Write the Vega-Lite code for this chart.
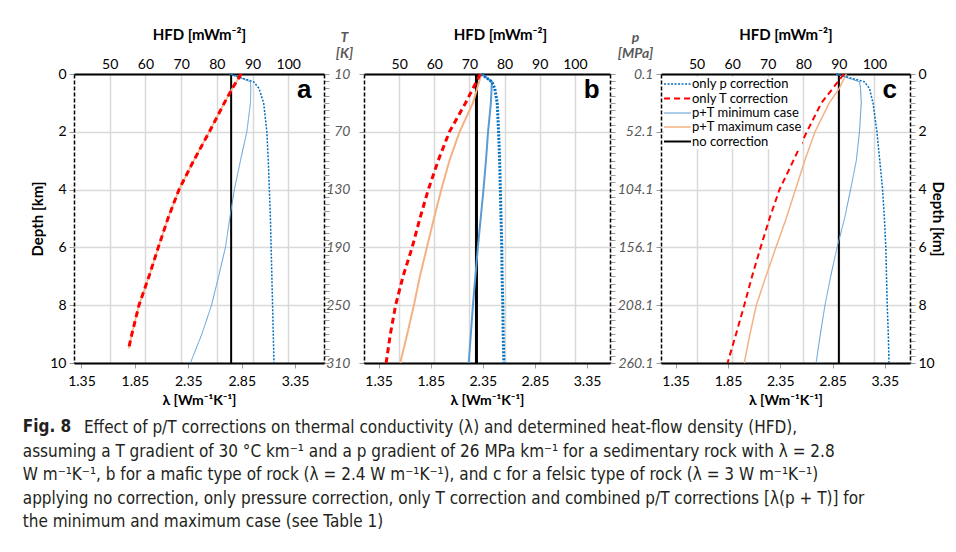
{
  "$schema": "https://vega.github.io/schema/vega-lite/v6.json",
  "padding": {"left": 22, "top": 27, "right": 10, "bottom": 0},
  "bounds": "flush",
  "spacing": 40,
  "datasets": {
    "curves": [
      {"panel": "a", "series": "no correction", "depth": 0, "hfd": 84},
      {"panel": "a", "series": "no correction", "depth": 10, "hfd": 84},
      {"panel": "a", "series": "p+T maximum case", "depth": 0, "hfd": 86.8},
      {"panel": "a", "series": "p+T maximum case", "depth": 0.5, "hfd": 84.3},
      {"panel": "a", "series": "p+T maximum case", "depth": 1, "hfd": 82.1},
      {"panel": "a", "series": "p+T maximum case", "depth": 2, "hfd": 77.9},
      {"panel": "a", "series": "p+T maximum case", "depth": 3, "hfd": 73.5},
      {"panel": "a", "series": "p+T maximum case", "depth": 4, "hfd": 69.4},
      {"panel": "a", "series": "p+T maximum case", "depth": 5, "hfd": 66.3},
      {"panel": "a", "series": "p+T maximum case", "depth": 6, "hfd": 63.6},
      {"panel": "a", "series": "p+T maximum case", "depth": 7, "hfd": 61.0},
      {"panel": "a", "series": "p+T maximum case", "depth": 8, "hfd": 58.2},
      {"panel": "a", "series": "p+T maximum case", "depth": 9, "hfd": 56.2},
      {"panel": "a", "series": "p+T maximum case", "depth": 9.5, "hfd": 55.3},
      {"panel": "a", "series": "p+T minimum case", "depth": 0, "hfd": 83.6},
      {"panel": "a", "series": "p+T minimum case", "depth": 0.27, "hfd": 89.4},
      {"panel": "a", "series": "p+T minimum case", "depth": 0.5, "hfd": 89.5},
      {"panel": "a", "series": "p+T minimum case", "depth": 1, "hfd": 89.4},
      {"panel": "a", "series": "p+T minimum case", "depth": 2, "hfd": 88.4},
      {"panel": "a", "series": "p+T minimum case", "depth": 3, "hfd": 86.6},
      {"panel": "a", "series": "p+T minimum case", "depth": 4, "hfd": 84.9},
      {"panel": "a", "series": "p+T minimum case", "depth": 5, "hfd": 83.6},
      {"panel": "a", "series": "p+T minimum case", "depth": 6, "hfd": 82.4},
      {"panel": "a", "series": "p+T minimum case", "depth": 7, "hfd": 80.5},
      {"panel": "a", "series": "p+T minimum case", "depth": 8, "hfd": 78.5},
      {"panel": "a", "series": "p+T minimum case", "depth": 9, "hfd": 75.8},
      {"panel": "a", "series": "p+T minimum case", "depth": 10, "hfd": 72.6},
      {"panel": "a", "series": "only p correction", "depth": 0, "hfd": 83.6},
      {"panel": "a", "series": "only p correction", "depth": 0.27, "hfd": 90.3},
      {"panel": "a", "series": "only p correction", "depth": 0.5, "hfd": 91.8},
      {"panel": "a", "series": "only p correction", "depth": 1, "hfd": 93.1},
      {"panel": "a", "series": "only p correction", "depth": 2, "hfd": 94.0},
      {"panel": "a", "series": "only p correction", "depth": 3, "hfd": 94.4},
      {"panel": "a", "series": "only p correction", "depth": 4, "hfd": 94.7},
      {"panel": "a", "series": "only p correction", "depth": 5, "hfd": 95.0},
      {"panel": "a", "series": "only p correction", "depth": 6, "hfd": 95.2},
      {"panel": "a", "series": "only p correction", "depth": 7, "hfd": 95.4},
      {"panel": "a", "series": "only p correction", "depth": 8, "hfd": 95.6},
      {"panel": "a", "series": "only p correction", "depth": 9, "hfd": 95.8},
      {"panel": "a", "series": "only p correction", "depth": 10, "hfd": 96.0},
      {"panel": "a", "series": "only T correction", "depth": 0, "hfd": 86.8},
      {"panel": "a", "series": "only T correction", "depth": 0.5, "hfd": 84.3},
      {"panel": "a", "series": "only T correction", "depth": 1, "hfd": 82.1},
      {"panel": "a", "series": "only T correction", "depth": 2, "hfd": 77.9},
      {"panel": "a", "series": "only T correction", "depth": 3, "hfd": 73.5},
      {"panel": "a", "series": "only T correction", "depth": 4, "hfd": 69.4},
      {"panel": "a", "series": "only T correction", "depth": 5, "hfd": 66.3},
      {"panel": "a", "series": "only T correction", "depth": 6, "hfd": 63.6},
      {"panel": "a", "series": "only T correction", "depth": 7, "hfd": 61.0},
      {"panel": "a", "series": "only T correction", "depth": 8, "hfd": 58.2},
      {"panel": "a", "series": "only T correction", "depth": 9, "hfd": 56.2},
      {"panel": "a", "series": "only T correction", "depth": 9.5, "hfd": 55.3},

      {"panel": "b", "series": "no correction", "depth": 0, "hfd": 72},
      {"panel": "b", "series": "no correction", "depth": 10, "hfd": 72},
      {"panel": "b", "series": "p+T maximum case", "depth": 0, "hfd": 73.4},
      {"panel": "b", "series": "p+T maximum case", "depth": 1, "hfd": 71.0},
      {"panel": "b", "series": "p+T maximum case", "depth": 2, "hfd": 67.2},
      {"panel": "b", "series": "p+T maximum case", "depth": 3, "hfd": 64.3},
      {"panel": "b", "series": "p+T maximum case", "depth": 4, "hfd": 62.0},
      {"panel": "b", "series": "p+T maximum case", "depth": 5, "hfd": 59.9},
      {"panel": "b", "series": "p+T maximum case", "depth": 6, "hfd": 57.9},
      {"panel": "b", "series": "p+T maximum case", "depth": 7, "hfd": 55.9},
      {"panel": "b", "series": "p+T maximum case", "depth": 8, "hfd": 54.2},
      {"panel": "b", "series": "p+T maximum case", "depth": 9, "hfd": 52.3},
      {"panel": "b", "series": "p+T maximum case", "depth": 10, "hfd": 50.3},
      {"panel": "b", "series": "p+T minimum case", "depth": 0, "hfd": 73.4},
      {"panel": "b", "series": "p+T minimum case", "depth": 0.27, "hfd": 76.4},
      {"panel": "b", "series": "p+T minimum case", "depth": 0.5, "hfd": 76.3},
      {"panel": "b", "series": "p+T minimum case", "depth": 1, "hfd": 76.1},
      {"panel": "b", "series": "p+T minimum case", "depth": 2, "hfd": 75.3},
      {"panel": "b", "series": "p+T minimum case", "depth": 3, "hfd": 74.7},
      {"panel": "b", "series": "p+T minimum case", "depth": 4, "hfd": 74.0},
      {"panel": "b", "series": "p+T minimum case", "depth": 5, "hfd": 73.2},
      {"panel": "b", "series": "p+T minimum case", "depth": 6, "hfd": 72.4},
      {"panel": "b", "series": "p+T minimum case", "depth": 7, "hfd": 71.7},
      {"panel": "b", "series": "p+T minimum case", "depth": 8, "hfd": 71.0},
      {"panel": "b", "series": "p+T minimum case", "depth": 9, "hfd": 70.4},
      {"panel": "b", "series": "p+T minimum case", "depth": 10, "hfd": 69.8},
      {"panel": "b", "series": "only p correction", "depth": 0, "hfd": 73.4},
      {"panel": "b", "series": "only p correction", "depth": 0.27, "hfd": 76.4},
      {"panel": "b", "series": "only p correction", "depth": 0.5, "hfd": 77.2},
      {"panel": "b", "series": "only p correction", "depth": 1, "hfd": 77.9},
      {"panel": "b", "series": "only p correction", "depth": 2, "hfd": 78.3},
      {"panel": "b", "series": "only p correction", "depth": 3, "hfd": 78.6},
      {"panel": "b", "series": "only p correction", "depth": 4, "hfd": 78.8},
      {"panel": "b", "series": "only p correction", "depth": 5, "hfd": 79.0},
      {"panel": "b", "series": "only p correction", "depth": 6, "hfd": 79.2},
      {"panel": "b", "series": "only p correction", "depth": 7, "hfd": 79.3},
      {"panel": "b", "series": "only p correction", "depth": 8, "hfd": 79.5},
      {"panel": "b", "series": "only p correction", "depth": 9, "hfd": 79.6},
      {"panel": "b", "series": "only p correction", "depth": 10, "hfd": 79.8},
      {"panel": "b", "series": "only T correction", "depth": 0, "hfd": 73.1},
      {"panel": "b", "series": "only T correction", "depth": 1, "hfd": 68.9},
      {"panel": "b", "series": "only T correction", "depth": 2, "hfd": 64.3},
      {"panel": "b", "series": "only T correction", "depth": 3, "hfd": 61.1},
      {"panel": "b", "series": "only T correction", "depth": 4, "hfd": 58.3},
      {"panel": "b", "series": "only T correction", "depth": 5, "hfd": 55.9},
      {"panel": "b", "series": "only T correction", "depth": 6, "hfd": 53.7},
      {"panel": "b", "series": "only T correction", "depth": 7, "hfd": 51.1},
      {"panel": "b", "series": "only T correction", "depth": 8, "hfd": 49.0},
      {"panel": "b", "series": "only T correction", "depth": 9, "hfd": 47.5},
      {"panel": "b", "series": "only T correction", "depth": 10, "hfd": 46.3},

      {"panel": "c", "series": "no correction", "depth": 0, "hfd": 90},
      {"panel": "c", "series": "no correction", "depth": 10, "hfd": 90},
      {"panel": "c", "series": "p+T maximum case", "depth": 0, "hfd": 92.1},
      {"panel": "c", "series": "p+T maximum case", "depth": 0.5, "hfd": 90.1},
      {"panel": "c", "series": "p+T maximum case", "depth": 1, "hfd": 87.3},
      {"panel": "c", "series": "p+T maximum case", "depth": 1.5, "hfd": 85.3},
      {"panel": "c", "series": "p+T maximum case", "depth": 2, "hfd": 83.3},
      {"panel": "c", "series": "p+T maximum case", "depth": 3, "hfd": 80.4},
      {"panel": "c", "series": "p+T maximum case", "depth": 4, "hfd": 77.8},
      {"panel": "c", "series": "p+T maximum case", "depth": 5, "hfd": 75.2},
      {"panel": "c", "series": "p+T maximum case", "depth": 6, "hfd": 72.3},
      {"panel": "c", "series": "p+T maximum case", "depth": 7, "hfd": 69.5},
      {"panel": "c", "series": "p+T maximum case", "depth": 8, "hfd": 66.8},
      {"panel": "c", "series": "p+T maximum case", "depth": 9, "hfd": 65.0},
      {"panel": "c", "series": "p+T maximum case", "depth": 10, "hfd": 63.4},
      {"panel": "c", "series": "p+T minimum case", "depth": 0, "hfd": 89.2},
      {"panel": "c", "series": "p+T minimum case", "depth": 0.27, "hfd": 95.8},
      {"panel": "c", "series": "p+T minimum case", "depth": 0.5, "hfd": 96.1},
      {"panel": "c", "series": "p+T minimum case", "depth": 1, "hfd": 96.3},
      {"panel": "c", "series": "p+T minimum case", "depth": 2, "hfd": 95.8},
      {"panel": "c", "series": "p+T minimum case", "depth": 3, "hfd": 94.9},
      {"panel": "c", "series": "p+T minimum case", "depth": 4, "hfd": 93.3},
      {"panel": "c", "series": "p+T minimum case", "depth": 5, "hfd": 91.6},
      {"panel": "c", "series": "p+T minimum case", "depth": 6, "hfd": 89.5},
      {"panel": "c", "series": "p+T minimum case", "depth": 7, "hfd": 87.7},
      {"panel": "c", "series": "p+T minimum case", "depth": 8, "hfd": 86.1},
      {"panel": "c", "series": "p+T minimum case", "depth": 9, "hfd": 84.8},
      {"panel": "c", "series": "p+T minimum case", "depth": 10, "hfd": 83.6},
      {"panel": "c", "series": "only p correction", "depth": 0, "hfd": 89.2},
      {"panel": "c", "series": "only p correction", "depth": 0.27, "hfd": 97.2},
      {"panel": "c", "series": "only p correction", "depth": 0.5, "hfd": 98.6},
      {"panel": "c", "series": "only p correction", "depth": 1, "hfd": 99.6},
      {"panel": "c", "series": "only p correction", "depth": 2, "hfd": 100.7},
      {"panel": "c", "series": "only p correction", "depth": 3, "hfd": 101.5},
      {"panel": "c", "series": "only p correction", "depth": 4, "hfd": 102.3},
      {"panel": "c", "series": "only p correction", "depth": 5, "hfd": 102.8},
      {"panel": "c", "series": "only p correction", "depth": 6, "hfd": 103.2},
      {"panel": "c", "series": "only p correction", "depth": 7, "hfd": 103.4},
      {"panel": "c", "series": "only p correction", "depth": 8, "hfd": 103.6},
      {"panel": "c", "series": "only p correction", "depth": 9, "hfd": 103.9},
      {"panel": "c", "series": "only p correction", "depth": 10, "hfd": 104.1},
      {"panel": "c", "series": "only T correction", "depth": 0, "hfd": 91.4},
      {"panel": "c", "series": "only T correction", "depth": 0.5, "hfd": 88.3},
      {"panel": "c", "series": "only T correction", "depth": 1, "hfd": 85.1},
      {"panel": "c", "series": "only T correction", "depth": 2, "hfd": 81.0},
      {"panel": "c", "series": "only T correction", "depth": 3, "hfd": 77.2},
      {"panel": "c", "series": "only T correction", "depth": 4, "hfd": 73.3},
      {"panel": "c", "series": "only T correction", "depth": 5, "hfd": 70.5},
      {"panel": "c", "series": "only T correction", "depth": 6, "hfd": 68.0},
      {"panel": "c", "series": "only T correction", "depth": 7, "hfd": 65.6},
      {"panel": "c", "series": "only T correction", "depth": 8, "hfd": 63.4},
      {"panel": "c", "series": "only T correction", "depth": 9, "hfd": 61.1},
      {"panel": "c", "series": "only T correction", "depth": 10, "hfd": 58.7}
    ]
  },
  "title": {
    "text": "Fig. 8",
    "subtitle": [
      "\u200b\u2003\u2003\u2003\u2002\u2002Effect of p/T corrections on thermal conductivity (λ) and determined heat-flow density (HFD),",
      "assuming a T gradient of 30 °C km⁻¹ and a p gradient of 26 MPa km⁻¹ for a sedimentary rock with λ = 2.8",
      "W m⁻¹K⁻¹, b for a mafic type of rock (λ = 2.4 W m⁻¹K⁻¹), and c for a felsic type of rock (λ = 3 W m⁻¹K⁻¹)",
      "applying no correction, only pressure correction, only T correction and combined p/T corrections [λ(p + T)] for",
      "the minimum and maximum case (see Table 1)"
    ],
    "orient": "bottom",
    "anchor": "start",
    "frame": "bounds",
    "dx": -8,
    "offset": 12,
    "font": "Liberation Sans Narrow, DejaVu Sans Condensed, sans-serif",
    "fontSize": 17,
    "fontWeight": "bold",
    "color": "#231f20",
    "subtitleFont": "Liberation Sans Narrow, DejaVu Sans Condensed, sans-serif",
    "subtitleFontSize": 17,
    "subtitleColor": "#231f20",
    "subtitleLineHeight": 23.5,
    "subtitlePadding": -16
  },
  "resolve": {"scale": {"color": "independent", "strokeDash": "independent", "strokeWidth": "independent"}},
  "hconcat": [
    {
      "width": 250,
      "height": 289,
      "resolve": {"scale": {"x": "independent"}, "axis": {"y": "independent"}},
      "layer": [
        {
          "layer": [
            {
              "data": {"name": "curves"},
              "transform": [{"filter": "datum.panel === 'a'"}],
              "mark": {"type": "line"},
              "encoding": {
                "x": {"field": "hfd", "type": "quantitative", "scale": {"domain": [40, 110], "nice": false, "zero": false},
                  "axis": {"orient": "top", "values": [50, 60, 70, 80, 90, 100], "title": "HFD [mWm⁻²]", "titleFontWeight": "bold", "titleFontSize": 15, "titlePadding": 15, "ticks": false, "labelPadding": 3, "domainColor": "#000", "domainWidth": 2, "grid": true, "gridColor": "#d9d9d9", "gridWidth": 1.5}},
                "y": {"field": "depth", "type": "quantitative", "scale": {"domain": [0, 10], "reverse": true, "nice": false, "zero": false},
                  "axis": {"orient": "left", "values": [0,0.25,0.5,0.75,1,1.25,1.5,1.75,2,2.25,2.5,2.75,3,3.25,3.5,3.75,4,4.25,4.5,4.75,5,5.25,5.5,5.75,6,6.25,6.5,6.75,7,7.25,7.5,7.75,8,8.25,8.5,8.75,9,9.25,9.5,9.75,10],
                    "labelExpr": "datum.value % 2 === 0 ? format(datum.value, 'd') : ''", "labelOverlap": false, "labelPadding": 3,
                    "title": "Depth [km]", "titleFontWeight": "bold", "titleFontSize": 15, "titlePadding": 4,
                    "tickSize": 5, "tickColor": "#9a9a9a", "domainColor": "#000", "domainWidth": 1.5, "domainDash": [4, 2],
                    "grid": true, "gridColor": "#d9d9d9", "gridWidth": 1.5,
                    "gridOpacity": {"condition": {"test": "datum.value % 1 === 0", "value": 1}, "value": 0}}},
                "order": {"field": "depth"},
                "color": {"field": "series", "type": "nominal", "legend": null,
                  "scale": {"domain": ["only p correction", "only T correction", "p+T minimum case", "p+T maximum case", "no correction"], "range": ["#0070C0", "#FF0000", "#5B9BD5", "#F4B183", "#000000"]}},
                "strokeDash": {"field": "series", "type": "nominal", "legend": null,
                  "scale": {"domain": ["only p correction", "only T correction", "p+T minimum case", "p+T maximum case", "no correction"], "range": [[2, 1.5], [6, 4], [1, 0], [1, 0], [1, 0]]}},
                "strokeWidth": {"field": "series", "type": "nominal", "legend": null,
                  "scale": {"type": "ordinal", "domain": ["only p correction", "only T correction", "p+T minimum case", "p+T maximum case", "no correction"], "range": [1.5, 3, 1, 1.5, 2]}}
              }
            },
            {
              "data": {"values": [{}]},
              "mark": {"type": "text", "font": "Liberation Sans", "fontWeight": "bold", "fontSize": 26, "align": "center", "baseline": "middle"},
              "encoding": {
                "x": {"datum": 104.5, "type": "quantitative"},
                "y": {"datum": 0.55, "type": "quantitative"},
                "text": {"value": "a"}
              }
            }
          ]
        },
        {
          "data": {"values": []},
          "mark": {"type": "point"},
          "encoding": {
            "x": {"field": "lam", "type": "quantitative", "scale": {"domain": [1.28, 3.62], "nice": false, "zero": false},
              "axis": {"orient": "bottom", "values": [1.35, 1.85, 2.35, 2.85, 3.35], "format": ".2f", "title": "λ [Wm⁻¹K⁻¹]", "titleFontWeight": "bold", "titleFontSize": 14, "titlePadding": 5, "labelPadding": 6, "tickSize": 5, "tickColor": "#9a9a9a", "domainColor": "#000", "domainWidth": 2, "grid": false}},
            "y": {"field": "depth", "type": "quantitative", "scale": {"domain": [0, 10], "reverse": true, "nice": false, "zero": false},
              "axis": {"orient": "right", "values": [0,0.25,0.5,0.75,1,1.25,1.5,1.75,2,2.25,2.5,2.75,3,3.25,3.5,3.75,4,4.25,4.5,4.75,5,5.25,5.5,5.75,6,6.25,6.5,6.75,7,7.25,7.5,7.75,8,8.25,8.5,8.75,9,9.25,9.5,9.75,10],
                "labels": false, "title": null, "grid": false, "tickSize": 5, "tickColor": "#9a9a9a", "domainColor": "#000", "domainWidth": 1.5, "domainDash": [4, 2]}}
          }
        }
      ]
    },
    {
      "bounds": "flush",
      "spacing": 51,
      "resolve": {"scale": {"color": "independent", "strokeDash": "independent", "strokeWidth": "independent"}},
      "hconcat": [
        {
          "width": 246,
          "height": 289,
          "resolve": {"scale": {"x": "independent"}, "axis": {"y": "independent"}},
          "layer": [
            {
              "layer": [
                {
                  "data": {"name": "curves"},
                  "transform": [{"filter": "datum.panel === 'b'"}],
                  "mark": {"type": "line"},
                  "encoding": {
                    "x": {"field": "hfd", "type": "quantitative", "scale": {"domain": [40, 110], "nice": false, "zero": false},
                      "axis": {"orient": "top", "values": [50, 60, 70, 80, 90, 100], "title": "HFD [mWm⁻²]", "titleX": 136, "titleFontWeight": "bold", "titleFontSize": 15, "titlePadding": 15, "ticks": false, "labelPadding": 3, "domainColor": "#000", "domainWidth": 2, "grid": true, "gridColor": "#d9d9d9", "gridWidth": 1.5}},
                    "y": {"field": "depth", "type": "quantitative", "scale": {"domain": [0, 10], "reverse": true, "nice": false, "zero": false},
                      "axis": {"orient": "left", "values": [0,0.25,0.5,0.75,1,1.25,1.5,1.75,2,2.25,2.5,2.75,3,3.25,3.5,3.75,4,4.25,4.5,4.75,5,5.25,5.5,5.75,6,6.25,6.5,6.75,7,7.25,7.5,7.75,8,8.25,8.5,8.75,9,9.25,9.5,9.75,10],
                        "labelExpr": "datum.value % 2 === 0 ? format(10 + 30 * datum.value, 'd') : ''", "labelOverlap": false, "labelPadding": 9,
                        "labelFontStyle": "italic", "labelColor": "#595959",
                        "title": ["T", "[K]"], "titleAngle": 0, "titleAlign": "center", "titleBaseline": "bottom", "titleX": -20, "titleY": -30,
                        "titleFontStyle": "italic", "titleColor": "#595959", "titleFontWeight": "bold", "titleFontSize": 14, "titleLineHeight": 16,
                        "tickSize": 5, "tickColor": "#9a9a9a", "domainColor": "#000", "domainWidth": 1.5, "domainDash": [4, 2],
                        "grid": true, "gridColor": "#d9d9d9", "gridWidth": 1.5,
                        "gridOpacity": {"condition": {"test": "datum.value % 1 === 0", "value": 1}, "value": 0}}},
                    "order": {"field": "depth"},
                    "color": {"field": "series", "type": "nominal", "legend": null,
                      "scale": {"domain": ["only p correction", "only T correction", "p+T minimum case", "p+T maximum case", "no correction"], "range": ["#0070C0", "#FF0000", "#5B9BD5", "#F4B183", "#000000"]}},
                    "strokeDash": {"field": "series", "type": "nominal", "legend": null,
                      "scale": {"domain": ["only p correction", "only T correction", "p+T minimum case", "p+T maximum case", "no correction"], "range": [[2, 1.5], [6, 4], [1, 0], [1, 0], [1, 0]]}},
                    "strokeWidth": {"field": "series", "type": "nominal", "legend": null,
                      "scale": {"type": "ordinal", "domain": ["only p correction", "only T correction", "p+T minimum case", "p+T maximum case", "no correction"], "range": [3, 3, 2, 2, 3]}}
                  }
                },
                {
                  "data": {"values": [{}]},
                  "mark": {"type": "text", "font": "Liberation Sans", "fontWeight": "bold", "fontSize": 26, "align": "center", "baseline": "middle"},
                  "encoding": {
                    "x": {"datum": 104.8, "type": "quantitative"},
                    "y": {"datum": 0.55, "type": "quantitative"},
                    "text": {"value": "b"}
                  }
                }
              ]
            },
            {
              "data": {"values": []},
              "mark": {"type": "point"},
              "encoding": {
                "x": {"field": "lam", "type": "quantitative", "scale": {"domain": [1.21, 3.57], "nice": false, "zero": false},
                  "axis": {"orient": "bottom", "values": [1.35, 1.85, 2.35, 2.85, 3.35], "format": ".2f", "title": "λ [Wm⁻¹K⁻¹]", "titleFontWeight": "bold", "titleFontSize": 14, "titlePadding": 5, "labelPadding": 6, "tickSize": 5, "tickColor": "#9a9a9a", "domainColor": "#000", "domainWidth": 2, "grid": false}},
                "y": {"field": "depth", "type": "quantitative", "scale": {"domain": [0, 10], "reverse": true, "nice": false, "zero": false},
                  "axis": {"orient": "right", "values": [0,0.25,0.5,0.75,1,1.25,1.5,1.75,2,2.25,2.5,2.75,3,3.25,3.5,3.75,4,4.25,4.5,4.75,5,5.25,5.5,5.75,6,6.25,6.5,6.75,7,7.25,7.5,7.75,8,8.25,8.5,8.75,9,9.25,9.5,9.75,10],
                    "labels": false, "title": null, "grid": false, "tickSize": 5, "tickColor": "#9a9a9a", "domainColor": "#000", "domainWidth": 1.5, "domainDash": [4, 2]}}
              }
            }
          ]
        },
        {
          "width": 249,
          "height": 289,
          "resolve": {"scale": {"x": "independent"}, "axis": {"y": "independent"}},
          "layer": [
            {
              "layer": [
                {
                  "data": {"name": "curves"},
                  "transform": [{"filter": "datum.panel === 'c'"}],
                  "mark": {"type": "line"},
                  "encoding": {
                    "x": {"field": "hfd", "type": "quantitative", "scale": {"domain": [40, 110], "nice": false, "zero": false},
                      "axis": {"orient": "top", "values": [50, 60, 70, 80, 90, 100], "title": "HFD [mWm⁻²]", "titleFontWeight": "bold", "titleFontSize": 15, "titlePadding": 15, "ticks": false, "labelPadding": 3, "domainColor": "#000", "domainWidth": 2, "grid": true, "gridColor": "#d9d9d9", "gridWidth": 1.5}},
                    "y": {"field": "depth", "type": "quantitative", "scale": {"domain": [0, 10], "reverse": true, "nice": false, "zero": false},
                      "axis": {"orient": "left", "values": [0,0.25,0.5,0.75,1,1.25,1.5,1.75,2,2.25,2.5,2.75,3,3.25,3.5,3.75,4,4.25,4.5,4.75,5,5.25,5.5,5.75,6,6.25,6.5,6.75,7,7.25,7.5,7.75,8,8.25,8.5,8.75,9,9.25,9.5,9.75,10],
                        "labelExpr": "datum.value % 2 === 0 ? format(0.1 + 26 * datum.value, '.1f') : ''", "labelOverlap": false, "labelPadding": 3,
                        "labelFontStyle": "italic", "labelColor": "#595959",
                        "title": ["p", "[MPa]"], "titleAngle": 0, "titleAlign": "center", "titleBaseline": "bottom", "titleX": -26, "titleY": -30,
                        "titleFontStyle": "italic", "titleColor": "#595959", "titleFontWeight": "bold", "titleFontSize": 14, "titleLineHeight": 16,
                        "tickSize": 5, "tickColor": "#9a9a9a", "domainColor": "#000", "domainWidth": 1.5, "domainDash": [4, 2],
                        "grid": true, "gridColor": "#d9d9d9", "gridWidth": 1.5,
                        "gridOpacity": {"condition": {"test": "datum.value % 1 === 0", "value": 1}, "value": 0}}},
                    "order": {"field": "depth"},
                    "color": {"field": "series", "type": "nominal",
                      "scale": {"domain": ["only p correction", "only T correction", "p+T minimum case", "p+T maximum case", "no correction"], "range": ["#0070C0", "#FF0000", "#5B9BD5", "#F4B183", "#000000"]},
                      "legend": {"orient": "top-left", "title": null, "offset": 3, "padding": 0, "symbolType": "M-2.2,0H2.2", "symbolSize": 150, "symbolOffset": 6, "symbolStrokeWidth": 2.5, "symbolFillColor": "transparent", "labelFont": "Lato", "labelFontSize": 13, "labelColor": "#000", "labelOffset": 7, "rowPadding": 0, "fillColor": "#ffffff"}},
                    "strokeDash": {"field": "series", "type": "nominal",
                      "scale": {"domain": ["only p correction", "only T correction", "p+T minimum case", "p+T maximum case", "no correction"], "range": [[2, 1.5], [6, 4], [1, 0], [1, 0], [1, 0]]}},
                    "strokeWidth": {"field": "series", "type": "nominal", "legend": null,
                      "scale": {"type": "ordinal", "domain": ["only p correction", "only T correction", "p+T minimum case", "p+T maximum case", "no correction"], "range": [1.5, 2, 1, 1.5, 2]}}
                  }
                },
                {
                  "data": {"values": [{}]},
                  "mark": {"type": "text", "font": "Liberation Sans", "fontWeight": "bold", "fontSize": 26, "align": "center", "baseline": "middle"},
                  "encoding": {
                    "x": {"datum": 104.3, "type": "quantitative"},
                    "y": {"datum": 0.55, "type": "quantitative"},
                    "text": {"value": "c"}
                  }
                }
              ]
            },
            {
              "data": {"values": []},
              "mark": {"type": "point"},
              "encoding": {
                "x": {"field": "lam", "type": "quantitative", "scale": {"domain": [1.21, 3.59], "nice": false, "zero": false},
                  "axis": {"orient": "bottom", "values": [1.35, 1.85, 2.35, 2.85, 3.35], "format": ".2f", "title": "λ [Wm⁻¹K⁻¹]", "titleFontWeight": "bold", "titleFontSize": 14, "titlePadding": 5, "labelPadding": 6, "tickSize": 5, "tickColor": "#9a9a9a", "domainColor": "#000", "domainWidth": 2, "grid": false}},
                "y": {"field": "depth", "type": "quantitative", "scale": {"domain": [0, 10], "reverse": true, "nice": false, "zero": false},
                  "axis": {"orient": "right", "values": [0,0.25,0.5,0.75,1,1.25,1.5,1.75,2,2.25,2.5,2.75,3,3.25,3.5,3.75,4,4.25,4.5,4.75,5,5.25,5.5,5.75,6,6.25,6.5,6.75,7,7.25,7.5,7.75,8,8.25,8.5,8.75,9,9.25,9.5,9.75,10],
                    "labelExpr": "datum.value % 2 === 0 ? format(datum.value, 'd') : ''", "labelOverlap": false, "labelPadding": 3,
                    "title": "Depth [km]", "titleFontWeight": "bold", "titleFontSize": 15, "titlePadding": -5,
                    "grid": false, "tickSize": 5, "tickColor": "#9a9a9a", "domainColor": "#000", "domainWidth": 1.5, "domainDash": [4, 2]}}
              }
            }
          ]
        }
      ]
    }
  ],
  "config": {
    "font": "Lato",
    "view": {"stroke": null},
    "axis": {"labelFont": "Lato", "titleFont": "Lato", "labelFontSize": 14, "labelColor": "#000", "titleColor": "#000"}
  }
}
